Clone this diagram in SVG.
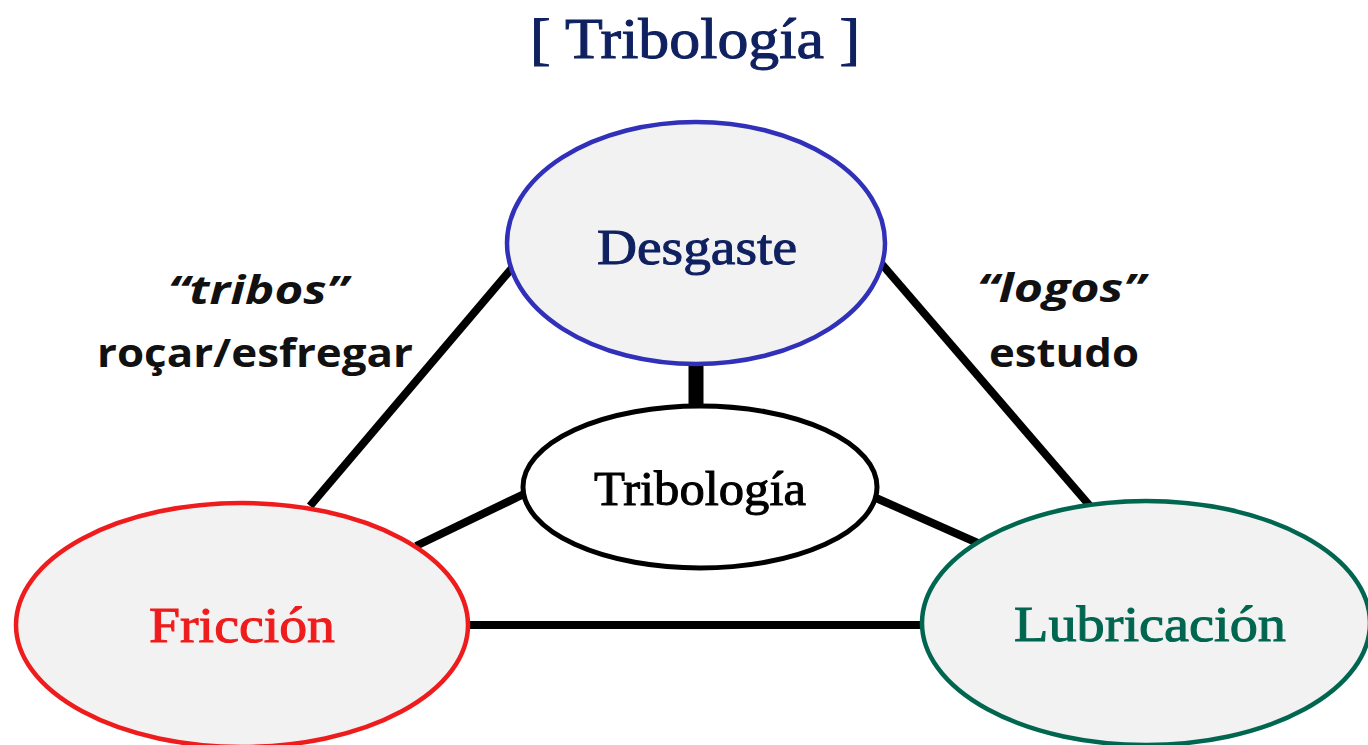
<svg xmlns="http://www.w3.org/2000/svg" width="1368" height="745" viewBox="0 0 1368 745">
<style>
.conn{stroke:#000;stroke-width:8;stroke-linecap:butt;fill:none}
.node{fill:#f2f2f2;stroke-width:4.5}
.serif{font-family:"Liberation Serif","DejaVu Serif",serif;text-anchor:middle;stroke-width:1}
.lbl{font-family:"Open Sans","Liberation Sans",sans-serif;font-weight:bold;font-size:40px;fill:#111;text-anchor:middle}
</style>
<rect width="1368" height="745" fill="#fff"/>
<text class="serif" x="695" y="58" font-size="58" fill="#0f2160" stroke="#0f2160" textLength="330" lengthAdjust="spacingAndGlyphs">[ Tribología ]</text>
<g id="connectors">
<line class="conn" x1="512" y1="268" x2="310" y2="506"/>
<line class="conn" x1="880" y1="262" x2="1090" y2="506"/>
<line class="conn" x1="468" y1="625" x2="924" y2="625"/>
<line class="conn" x1="696" y1="362" x2="696" y2="406" style="stroke-width:15"/>
<line class="conn" x1="524" y1="494" x2="416" y2="546"/>
<line class="conn" x1="876" y1="498" x2="980" y2="544"/>
</g>
<g id="desgaste">
<ellipse class="node" cx="696" cy="243" rx="189" ry="121" stroke="#3030b8"/>
<text class="serif" x="697" y="264" font-size="50" fill="#0f2160" stroke="#0f2160" textLength="200" lengthAdjust="spacingAndGlyphs">Desgaste</text>
</g>
<g id="tribologia">
<ellipse cx="700" cy="487" rx="177" ry="81" fill="#fff" stroke="#000" stroke-width="5"/>
<text class="serif" x="700" y="505" font-size="48" fill="#000" stroke="#000" textLength="212" lengthAdjust="spacingAndGlyphs">Tribología</text>
</g>
<g id="friccion">
<ellipse class="node" cx="242" cy="625" rx="226" ry="122" stroke="#ee1c1c"/>
<text class="serif" x="242" y="642" font-size="50" fill="#ee1c1c" stroke="#ee1c1c" textLength="186" lengthAdjust="spacingAndGlyphs">Fricción</text>
</g>
<g id="lubricacion">
<ellipse class="node" cx="1146" cy="623" rx="224" ry="122" stroke="#006650"/>
<text class="serif" x="1150" y="641" font-size="50" fill="#006650" stroke="#006650" textLength="272" lengthAdjust="spacingAndGlyphs">Lubricación</text>
</g>
<g id="labels">
<text class="lbl" x="258" y="304" font-style="italic" textLength="180" lengthAdjust="spacingAndGlyphs">“tribos”</text>
<text class="lbl" x="255" y="367" textLength="316" lengthAdjust="spacingAndGlyphs">roçar/esfregar</text>
<text class="lbl" x="1061" y="302" font-style="italic" textLength="168" lengthAdjust="spacingAndGlyphs">“logos”</text>
<text class="lbl" x="1064" y="367" textLength="150" lengthAdjust="spacingAndGlyphs">estudo</text>
</g>
</svg>
